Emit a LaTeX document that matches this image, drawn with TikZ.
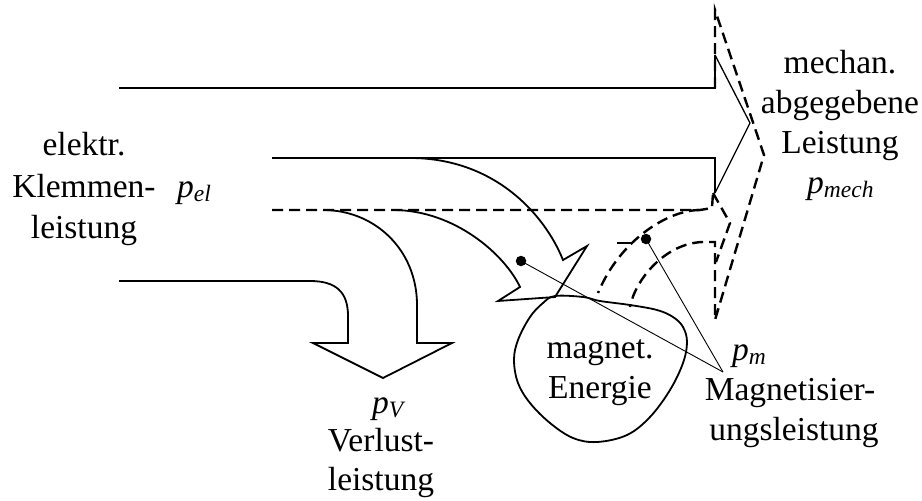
\documentclass[tikz,border=0pt]{standalone}
\usepackage{fontspec}
\setmainfont{Liberation Serif}
\newcommand{\mysubs}[1]{\raisebox{-4pt}{\fontsize{23.5}{23.5}\selectfont\itshape #1}}
\begin{document}
\begin{tikzpicture}[x=1pt,y=-1pt,
  txt/.style={font=\fontsize{33.5}{40}\selectfont, inner sep=0pt, anchor=base},
  txtw/.style={txt, anchor=base west},
  flow/.style={line width=1.8pt, line join=miter},
  thinflow/.style={line width=1.3pt, line join=miter},
  dsh/.style={line width=2.4pt, dash pattern=on 11pt off 6pt},
  lead/.style={line width=0.9pt},
  dotn/.style={circle, fill=black, inner sep=0pt, minimum size=10.5pt}]
\useasboundingbox (0,0) rectangle (922,501);

% total electrical input (solid arrow to mechanical output)
\draw[flow] (119,88) -- (715,88) -- (715,55);
\draw[thinflow] (715,55) -- (750,123) -- (715,193);
\draw[flow] (715,193) -- (715,158) -- (272,158);
\draw[line width=2.4pt] (620,88) -- (712,88);
\draw[line width=2.2pt] (620,158) -- (680,158);

% dashed separating line
\draw[dsh] (272,210) -- (700,210) -- (712,208) -- (713,193);

% magnetisation arrow into the blob
\draw[flow] (410,158) .. controls (495,158) and (545,215) .. (563,260)
  -- (587,246) -- (555,297) -- (498,301) -- (520,287)
  .. controls (505,255) and (455,210) .. (393,210);

% loss arrow
\draw[flow] (119,281) -- (310,281) .. controls (336,281) and (348,292) .. (348,316)
  -- (348,343) -- (313,343) -- (383,378) -- (452,343) -- (417,343) -- (417,305)
  .. controls (417,250) and (375,210) .. (323,210);

% magnetic energy blob
\draw[line width=1.8pt] plot[smooth cycle, tension=0.6] coordinates {
  (555,296) (583,297) (600,301) (630,305) (657,310) (673,317) (683,327)
  (687,342) (683,363) (670,390) (650,417) (627,435) (597,442) (573,438)
  (550,423) (530,403) (518,383) (514,360) (518,340) (530,317) (543,303)};

% dashed arrows (mechanical output incl. magnetisation)
\draw[dsh] (715,88) -- (715,10) -- (764,155) -- (715,320) -- (715,242) -- (703,242)
  .. controls (665,243) and (635,280) .. (630,307);
\draw[dsh] (700,210) .. controls (668,210) and (620,240) .. (598,293);
\draw[dsh] (713,193) -- (730,223) -- (716,262);
\draw[line width=2.4pt] (617,243) -- (632,243);

% leader lines
\node[dotn] (d1) at (521,261) {};
\node[dotn] (d2) at (646,239) {};
\coordinate (pmtip) at (723,372);
\draw[lead] (d1.center) -- (pmtip);
\draw[lead] (d2.center) -- (pmtip);

% texts
\node[txt] (l1) at (84,155) {elektr.};
\node[txt] (l2) at (84,197) {Klemmen-};
\node[txt] (l3) at (84,238) {leistung};
\node[txtw] (pel) at (177,197) {\itshape p\mysubs{el}};

\node[txt] (r1) at (840,73) {mechan.};
\node[txt] (r2) at (840,113) {abgegebene};
\node[txt] (r3) at (840,153) {Leistung};
\node[txtw] (pmech) at (807,193) {\itshape p\mysubs{mech}};

\node[txt] (m1) at (600,358) {magnet.};
\node[txt] (m2) at (600,398) {Energie};

\node[txtw] (pv) at (372,413) {\itshape p\mysubs{V}};
\node[txt] (v1) at (381,451) {Verlust-};
\node[txt] (v2) at (381,490) {leistung};

\node[txtw] (pm) at (732,360) {\itshape p\mysubs{m}};
\node[txt] (g1) at (790,400) {Magnetisier-};
\node[txt] (g2) at (794,440) {ungsleistung};
\end{tikzpicture}
\end{document}
